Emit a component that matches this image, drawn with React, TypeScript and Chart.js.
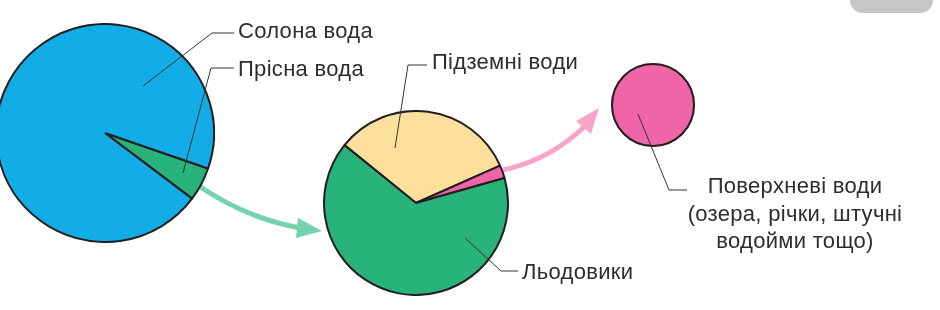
import React, { useEffect, useRef } from "react";
import { Chart, registerables } from "chart.js";

Chart.register(...registerables);

// ---- data ----
const waterLabels = ["Прісна вода", "Солона вода"];
const waterValues = [5, 95];
const waterColors = ["#27b37b", "#12ade6"];

const freshLabels = ["Підземні води", "Поверхневі води", "Льодовики"];
const freshValues = [32.5, 2.3, 65.2];
const freshColors = ["#fee09c", "#f065a8", "#27b37b"];

const surfaceLabels = ["Поверхневі води"];
const surfaceValues = [100];
const surfaceColors = ["#f065a8"];

const surfaceText = ["Поверхневі води", "(озера, річки, штучні", "водойми тощо)"];

const OUTLINE = "#231f20";
const TEXT = "#2d2d2d";
const FONT = "'Liberation Sans', Arial, Helvetica, sans-serif";

const outlinePlugin = {
  id: "outlineCircle",
  afterDatasetsDraw(chart: any) {
    const arc = chart.getDatasetMeta(0).data[0];
    if (!arc) return;
    const { x, y, outerRadius } = arc.getProps(["x", "y", "outerRadius"], true);
    const ctx = chart.ctx;
    ctx.save();
    ctx.beginPath();
    ctx.arc(x, y, outerRadius - 1, 0, Math.PI * 2);
    ctx.lineWidth = 2;
    ctx.strokeStyle = OUTLINE;
    ctx.stroke();
    ctx.restore();
  },
};

type PieProps = {
  left: number;
  top: number;
  size: number;
  labels: string[];
  values: number[];
  colors: string[];
  rotation: number;
  outline?: boolean;
};

function Pie({ left, top, size, labels, values, colors, rotation, outline }: PieProps) {
  const ref = useRef<HTMLCanvasElement | null>(null);
  useEffect(() => {
    if (!ref.current) return;
    const chart = new Chart(ref.current, {
      type: "pie",
      data: {
        labels,
        datasets: [
          {
            data: values,
            backgroundColor: colors,
            borderColor: OUTLINE,
            borderWidth: outline ? 0 : 2,
          },
        ],
      },
      options: {
        responsive: false,
        animation: false,
        devicePixelRatio: 1,
        rotation,
        events: [],
        layout: { padding: 0 },
        plugins: { legend: { display: false }, tooltip: { enabled: false } },
      },
      plugins: outline ? [outlinePlugin as any] : [],
    });
    return () => chart.destroy();
  }, []);
  return (
    <canvas
      ref={ref}
      width={size}
      height={size}
      style={{ position: "absolute", left, top, width: size, height: size, zIndex: 1 }}
    />
  );
}

export default function App() {
  const lead = { fill: "none", stroke: "#333", strokeWidth: 1 } as const;
  const txt = { fontFamily: FONT, fontSize: 22, fill: TEXT, letterSpacing: 0.3 } as const;
  return (
    <div
      style={{
        position: "fixed",
        left: 0,
        top: 0,
        width: 940,
        height: 310,
        overflow: "hidden",
        background: "#fff",
      }}
    >
      <div
        style={{
          position: "absolute",
          left: 850,
          top: -20,
          width: 83,
          height: 33,
          borderRadius: 13,
          background: "#c6c6c6",
        }}
      />
      <svg
        width={940}
        height={310}
        style={{ position: "absolute", left: 0, top: 0, zIndex: 0 }}
      >
        <path d="M 196 184 Q 245 218 300 228" fill="none" stroke="#74d3ae" strokeWidth={5} />
        <polygon points="298,218 322,231 296,238" fill="#74d3ae" />
        <path d="M 503 170 Q 550 160 585 126" fill="none" stroke="#f6a5c9" strokeWidth={5} />
        <polygon points="576,121 599,108 591,134" fill="#f6a5c9" />
      </svg>
      <Pie left={-5} top={23} size={220} labels={waterLabels} values={waterValues} colors={waterColors} rotation={109} />
      <Pie left={323} top={110} size={186} labels={freshLabels} values={freshValues} colors={freshColors} rotation={309} />
      <Pie left={611} top={63} size={84} labels={surfaceLabels} values={surfaceValues} colors={surfaceColors} rotation={0} outline />
      <svg
        width={940}
        height={310}
        style={{ position: "absolute", left: 0, top: 0, zIndex: 2 }}
      >
        <polyline points="143,86 212,33 234,33" {...lead} />
        <polyline points="183,173 211,68 234,68" {...lead} />
        <polyline points="395,148 408,65 427,65" {...lead} />
        <polyline points="465,238 501,271 518,271" {...lead} />
        <polyline points="638,114 669,190 687,190" {...lead} />
        <text x={238} y={38} {...txt}>{waterLabels[1]}</text>
        <text x={238} y={75.5} {...txt}>{waterLabels[0]}</text>
        <text x={432} y={68.5} {...txt}>{freshLabels[0]}</text>
        <text x={522} y={278.5} {...txt}>{freshLabels[2]}</text>
        {surfaceText.map((s, i) => (
          <text key={i} x={795} y={193 + i * 27.5} textAnchor="middle" {...txt}>
            {s}
          </text>
        ))}
      </svg>
    </div>
  );
}
